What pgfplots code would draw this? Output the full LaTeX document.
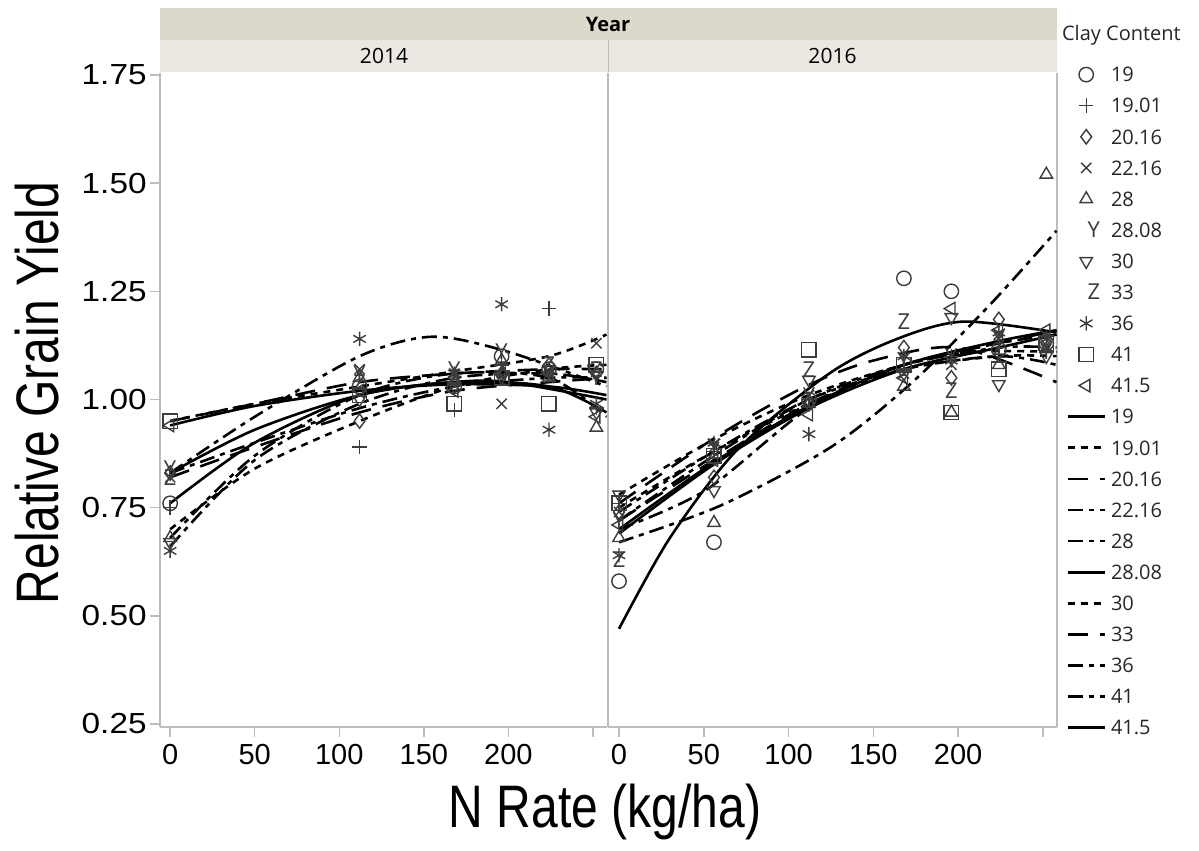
\documentclass[border=0pt]{standalone}
\usepackage{fontspec}
\setmainfont{Liberation Sans}
\newfontfamily\legfont{Open Sans}
\usepackage{graphicx}
\usepackage{pgfplots}
\pgfplotsset{compat=1.18}

\definecolor{stripA}{HTML}{DCD9CC}
\definecolor{stripB}{HTML}{EAE8E0}
\definecolor{framec}{HTML}{BDBDBD}
\definecolor{markc}{HTML}{3C3C3C}

\newcommand{\ytl}[1]{\scalebox{1.15}[1]{#1}}

\pgfplotsset{
  panel/.style={
    scale only axis, height=327pt, ymin=0.243, ymax=1.7546,
    xmin=-6, xmax=258.3,
    axis line style={draw=framec, line width=0.7pt},
    tick style={draw=framec, line width=0.7pt},
    tick align=outside, major tick length=5pt,
    xtick pos=left, ytick pos=left,
    xtick={0,50,100,150,200,250},
    xticklabels={0,50,100,150,200,{}},
    ticklabel style={font=\fontsize{14.5}{16}\selectfont, text=black},
    yticklabel style={inner xsep=1.5pt},
    /pgf/number format/assume math mode=true,
    every axis plot/.append style={line width=1.3pt, black},
    legend image code/.code={\draw[mark repeat=2,mark phase=2,##1] plot coordinates {(0pt,0pt) (9.25pt,0pt) (18.5pt,0pt)};},
  },
  mk/.style={only marks, mark size=3.6pt, mark options={draw=markc, line width=0.7pt, solid, fill=none, #1}},
  mk/.default={},
  tmk/.style={only marks, mark=text, text mark={#1}, text mark as node=true,
    text mark style={font=\legfont\fontsize{11}{11}\selectfont, text=markc, inner sep=0pt}},
  sSolid/.style={solid, line width=1.3pt},
  sDot/.style={dash pattern=on 3.5pt off 3pt, line width=1.3pt},
  sLong/.style={dash pattern=on 10pt off 6pt, line width=1.3pt},
  sDD/.style={dash pattern=on 7.5pt off 3pt on 2.5pt off 3pt, line width=1.3pt},
}

\begin{document}
\begin{tikzpicture}
\useasboundingbox (0,0) rectangle (599.5pt,425.5pt);

% strips
\fill[stripA] (80pt,405.5pt) rectangle (528.5pt,421.5pt);
\fill[stripB] (80pt,389.5pt) rectangle (528.5pt,405.5pt);
\draw[framec, line width=0.5pt] (304pt,389.5pt) -- (304pt,405.5pt);
\node[font=\legfont\bfseries\fontsize{10}{12}\selectfont] at (304pt,413.5pt) {Year};
\node[font=\legfont\fontsize{10.5}{12}\selectfont] at (192pt,397.5pt) {2014};
\node[font=\legfont\fontsize{10.5}{12}\selectfont] at (416.25pt,397.5pt) {2016};
\node[anchor=west, font=\legfont\fontsize{10}{12}\selectfont, text=black!85] at (527.5pt,408pt) {Clay Content};

% axis labels
\node[rotate=90] at (18.5pt,229pt) {\scalebox{0.8}[1]{\fontsize{30}{36}\selectfont Relative Grain Yield}};
\node[anchor=base] at (302.5pt,11.5pt) {\scalebox{0.8}[1]{\fontsize{30}{36}\selectfont N Rate (kg/ha)}};

% ---------------- 2014 ----------------
\begin{axis}[panel, at={(80pt,62pt)}, anchor=south west, width=223.5pt,
  axis x line*=bottom, axis y line*=left,
  ytick={0.25,0.5,0.75,1,1.25,1.5,1.75},
  yticklabels={\ytl{0.25},\ytl{0.50},\ytl{0.75},\ytl{1.00},\ytl{1.25},\ytl{1.50},\ytl{1.75}}]
% markers
\addplot[mk, mark=o] coordinates {(0,0.76)(112,1.03)(168,1.03)(196,1.10)(224,1.07)(252,1.07)};
\addplot[mk, mark=+] coordinates {(0,0.75)(112,0.89)(168,0.975)(196,1.08)(224,1.21)(252,0.98)};
\addplot[mk, mark=diamond] coordinates {(0,0.83)(112,0.95)(168,1.05)(196,1.06)(224,1.08)(252,1.06)};
\addplot[mk, mark=x] coordinates {(0,0.82)(112,1.07)(168,1.06)(196,0.99)(224,1.05)(252,1.13)};
\addplot[mk, mark=triangle] coordinates {(0,0.68)(112,1.05)(168,1.04)(196,1.09)(224,1.05)(252,0.935)};
\addplot[tmk=Y] coordinates {(0,0.84)(112,1.06)(168,1.07)(196,1.11)(224,1.06)(252,1.05)};
\addplot[mk={rotate=180}, mark=triangle] coordinates {(0,0.67)(112,1.00)(168,1.03)(196,1.05)(224,1.07)(252,0.97)};
\addplot[tmk=Z] coordinates {(0,0.82)(112,1.04)(168,1.05)(196,1.07)(224,1.08)(252,1.07)};
\addplot[mk, mark=asterisk] coordinates {(0,0.65)(112,1.14)(168,1.06)(196,1.22)(224,0.93)(252,0.99)};
\addplot[mk, mark=square] coordinates {(0,0.95)(112,1.01)(168,0.99)(196,1.05)(224,0.99)(252,1.08)};
\addplot[mk={rotate=90}, mark=triangle] coordinates {(0,0.94)(112,1.02)(168,1.02)(196,1.06)(224,1.06)(252,0.96)};
% fitted curves
\addplot[sSolid, smooth] coordinates {(0,0.76)(50,0.90)(112,1.01)(168,1.04)(200,1.04)(258,1.00)};
\addplot[sDot, smooth] coordinates {(0,0.95)(50,0.99)(112,1.03)(168,1.065)(224,1.10)(258,1.15)};
\addplot[sLong, smooth] coordinates {(0,0.82)(50,0.89)(112,0.97)(168,1.02)(224,1.04)(258,1.05)};
\addplot[sDD, smooth] coordinates {(0,0.83)(50,0.96)(112,1.10)(155,1.145)(200,1.11)(258,1.03)};
\addplot[sDD, smooth] coordinates {(0,0.68)(50,0.87)(112,1.01)(168,1.06)(224,1.05)(258,0.96)};
\addplot[sSolid, smooth] coordinates {(0,0.83)(50,0.93)(112,1.01)(168,1.04)(224,1.03)(258,0.97)};
\addplot[sDot, smooth] coordinates {(0,0.70)(50,0.84)(112,0.95)(168,1.03)(224,1.07)(258,1.08)};
\addplot[sLong, smooth] coordinates {(0,0.95)(50,0.99)(112,1.04)(168,1.06)(224,1.07)(258,1.07)};
\addplot[sDD, smooth] coordinates {(0,0.66)(50,0.86)(112,0.99)(168,1.05)(224,1.06)(258,1.04)};
\addplot[sDD, smooth] coordinates {(0,0.83)(50,0.90)(112,0.98)(168,1.03)(224,1.05)(258,1.05)};
\addplot[sSolid, smooth] coordinates {(0,0.94)(50,0.985)(112,1.02)(168,1.035)(224,1.03)(258,1.01)};
\end{axis}

% ---------------- 2016 ----------------
\begin{axis}[panel, at={(304pt,62pt)}, anchor=south west, width=224.5pt,
  axis x line*=bottom, axis y line*=box,
  xmin=-6.5, ytick=\empty,
  legend style={at={(1,1)}, anchor=north west, xshift=1.5pt, yshift=5pt,
    draw=none, fill=none, font=\legfont\fontsize{10}{12}\selectfont, text=black!85,
    row sep=8.35pt, column sep=2.5pt,
    nodes={inner sep=0pt, text height=7.2pt, text depth=0pt}},
  legend cell align=left]
% markers
\addplot[mk, mark=o] coordinates {(0,0.58)(56,0.67)(112,1.00)(168,1.28)(196,1.25)(224,1.115)(252,1.13)};
\addlegendentry{19}
\addplot[mk, mark=+] coordinates {(0,0.76)(56,0.88)(112,1.00)(168,1.07)(196,1.10)(224,1.12)(252,1.11)};
\addlegendentry{19.01}
\addplot[mk, mark=diamond] coordinates {(0,0.74)(56,0.82)(112,0.99)(168,1.12)(196,1.05)(224,1.185)(252,1.14)};
\addlegendentry{20.16}
\addplot[mk, mark=x] coordinates {(0,0.74)(56,0.89)(112,1.01)(168,1.06)(196,1.08)(224,1.15)(252,1.12)};
\addlegendentry{22.16}
\addplot[mk, mark=triangle] coordinates {(0,0.68)(56,0.715)(112,0.99)(168,1.03)(196,0.97)(224,1.08)(252,1.52)};
\addlegendentry{28}
\addplot[tmk=Y] coordinates {(0,0.72)(56,0.89)(112,1.01)(168,1.09)(196,1.10)(224,1.14)(252,1.11)};
\addlegendentry{28.08}
\addplot[mk={rotate=180}, mark=triangle] coordinates {(0,0.78)(56,0.79)(112,1.045)(168,1.06)(196,1.19)(224,1.035)(252,1.10)};
\addlegendentry{30}
\addplot[tmk=Z] coordinates {(0,0.63)(56,0.88)(112,1.07)(168,1.18)(196,1.02)(224,1.12)(252,1.13)};
\addlegendentry{33}
\addplot[mk, mark=asterisk] coordinates {(0,0.64)(56,0.90)(112,0.92)(168,1.10)(196,1.09)(224,1.155)(252,1.14)};
\addlegendentry{36}
\addplot[mk, mark=square] coordinates {(0,0.76)(56,0.87)(112,1.115)(168,1.08)(196,0.97)(224,1.07)(252,1.13)};
\addlegendentry{41}
\addplot[mk={rotate=90}, mark=triangle] coordinates {(0,0.71)(56,0.86)(112,0.965)(168,1.05)(196,1.21)(224,1.16)(252,1.16)};
\addlegendentry{41.5}
% fitted curves
\addplot[sSolid, smooth] coordinates {(0,0.47)(30,0.68)(70,0.885)(124,1.06)(164,1.14)(203,1.18)(258,1.155)};
\addlegendentry{19}
\addplot[sDot, smooth] coordinates {(0,0.78)(57,0.91)(112,1.01)(168,1.08)(210,1.11)(258,1.11)};
\addlegendentry{19.01}
\addplot[sLong, smooth] coordinates {(0,0.76)(60,0.92)(110,1.03)(150,1.09)(200,1.12)(258,1.04)};
\addlegendentry{20.16}
\addplot[sDD, smooth] coordinates {(0,0.70)(51,0.79)(112,0.98)(168,1.08)(224,1.13)(258,1.15)};
\addlegendentry{22.16}
\addplot[sDD, smooth] coordinates {(0,0.67)(60,0.755)(125,0.89)(173,1.04)(219,1.22)(258,1.39)};
\addlegendentry{28}
\addplot[sSolid, smooth] coordinates {(0,0.69)(56,0.85)(112,0.98)(168,1.07)(224,1.12)(258,1.15)};
\addlegendentry{28.08}
\addplot[sDot, smooth] coordinates {(0,0.75)(56,0.88)(112,0.99)(168,1.07)(224,1.10)(258,1.10)};
\addlegendentry{30}
\addplot[sLong, smooth] coordinates {(0,0.72)(56,0.86)(112,0.99)(168,1.08)(224,1.13)(258,1.16)};
\addlegendentry{33}
\addplot[sDD, smooth] coordinates {(0,0.72)(56,0.87)(112,1.00)(168,1.08)(224,1.12)(258,1.12)};
\addlegendentry{36}
\addplot[sDD, smooth] coordinates {(0,0.74)(56,0.88)(112,1.00)(168,1.07)(224,1.10)(258,1.08)};
\addlegendentry{41}
\addplot[sSolid, smooth] coordinates {(0,0.70)(56,0.855)(112,0.985)(168,1.08)(224,1.135)(258,1.16)};
\addlegendentry{41.5}
\end{axis}
\end{tikzpicture}
\end{document}
